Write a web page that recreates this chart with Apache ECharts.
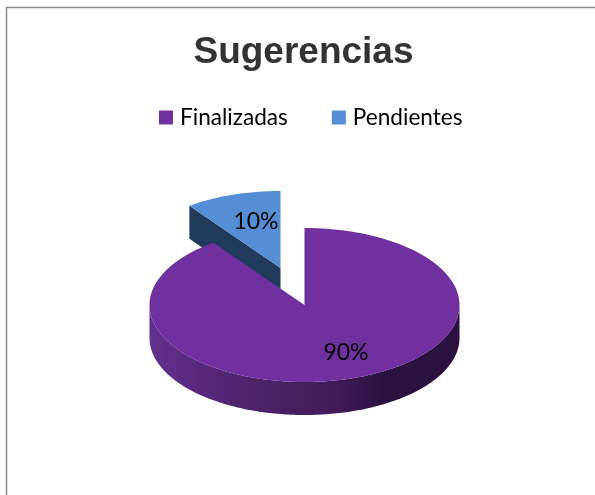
<!DOCTYPE html>
<html>
<head>
<meta charset="utf-8">
<style>html,body{margin:0;padding:0;background:#fff}#c{width:595px;height:495px}</style>
<script src="https://cdn.jsdelivr.net/npm/echarts@6/dist/echarts.min.js"></script>
</head>
<body>
<div id="c"></div>
<script>
var titleText = 'Sugerencias';
var categories = ['Finalizadas', 'Pendientes'];
var values = [90, 10];
var colors = ['#7030a0', '#558ed5'];
var wallColor = '#1f3a5a';

var total = values.reduce(function (a, b) { return a + b; }, 0);
var RX = 155, RY = 77, DEPTH = 33;
var CENTERS = [[304.5, 305], [280.5, 268]];
var LABELS = [[346, 353], [256, 222]];
var FONT = 'Lato, "Open Sans", sans-serif';

function pt(c, deg, dy) {
  var a = deg * Math.PI / 180;
  return [c[0] + RX * Math.sin(a), c[1] - RY * Math.cos(a) + (dy || 0)];
}
function arc(c, from, to, dy) {
  var out = [], n = Math.max(2, Math.ceil(Math.abs(to - from)));
  for (var i = 0; i <= n; i++) out.push(pt(c, from + (to - from) * i / n, dy));
  return out;
}
function sideGradient(c) {
  return new echarts.graphic.LinearGradient(c[0] - RX, 0, c[0] + RX, 0, [
    { offset: 0, color: '#63308f' },
    { offset: 0.2, color: '#56267a' },
    { offset: 0.45, color: '#46205f' },
    { offset: 0.6, color: '#421a5a' },
    { offset: 0.75, color: '#2c1140' },
    { offset: 1, color: '#2a1140' }
  ], true);
}

function renderFinalizadas(params, api) {
  var c = CENTERS[0];
  var span = api.value(0) / total * 360;
  var start = 0, end = start + span;
  var wall = arc(c, 90, 270, 0).concat(arc(c, 270, 90, DEPTH));
  var top = [c].concat(arc(c, start, end, 0));
  return {
    type: 'group',
    children: [
      { type: 'polygon', shape: { points: wall }, style: { fill: sideGradient(c) } },
      { type: 'polygon', shape: { points: top }, style: { fill: colors[0] } },
      { type: 'text', style: { x: LABELS[0][0], y: LABELS[0][1], text: Math.round(api.value(0) / total * 100) + '%',
        fill: '#000', font: '23px ' + FONT, align: 'center', verticalAlign: 'middle' } }
    ]
  };
}
function renderPendientes(params, api) {
  var c = CENTERS[1];
  var span = api.value(0) / total * 360;
  var start = 360 - span;
  var corner = pt(c, start, 0);
  var wall = [c, corner, [corner[0], corner[1] + DEPTH], [c[0], c[1] + DEPTH]];
  var top = [c].concat(arc(c, start, 360, 0));
  return {
    type: 'group',
    children: [
      { type: 'polygon', shape: { points: wall }, style: { fill: wallColor } },
      { type: 'polygon', shape: { points: top }, style: { fill: colors[1] } },
      { type: 'text', style: { x: LABELS[1][0], y: LABELS[1][1], text: Math.round(api.value(0) / total * 100) + '%',
        fill: '#000', font: '23px ' + FONT, align: 'center', verticalAlign: 'middle' } }
    ]
  };
}

var chart = echarts.init(document.getElementById('c'), null, { renderer: 'canvas' });
chart.setOption({
  animation: false,
  backgroundColor: '#fff',
  title: {
    text: titleText, left: 298.5, top: 29, textAlign: 'center',
    textStyle: { fontFamily: '"Liberation Sans", Arial, sans-serif', fontSize: 37, fontWeight: 'bold', color: '#333333' }
  },
  legend: {
    left: 154, top: 101, itemWidth: 14, itemHeight: 14, itemGap: 44, icon: 'rect', selectedMode: false,
    data: categories,
    textStyle: { fontFamily: FONT, fontSize: 22.6, color: '#000', padding: [0, 0, 0, 2] }
  },
  graphic: [{ type: 'rect', silent: true, z: -1,
    shape: { x: 6.5, y: 7.5, width: 700, height: 700 },
    style: { fill: 'none', stroke: '#8c8c8c', lineWidth: 1.5 } }],
  series: [
    { type: 'custom', name: categories[1], coordinateSystem: 'none', z: 2, silent: true,
      itemStyle: { color: colors[1] }, data: [values[1]], renderItem: renderPendientes },
    { type: 'custom', name: categories[0], coordinateSystem: 'none', z: 3, silent: true,
      itemStyle: { color: colors[0] }, data: [values[0]], renderItem: renderFinalizadas }
  ]
});
</script>
</body>
</html>
